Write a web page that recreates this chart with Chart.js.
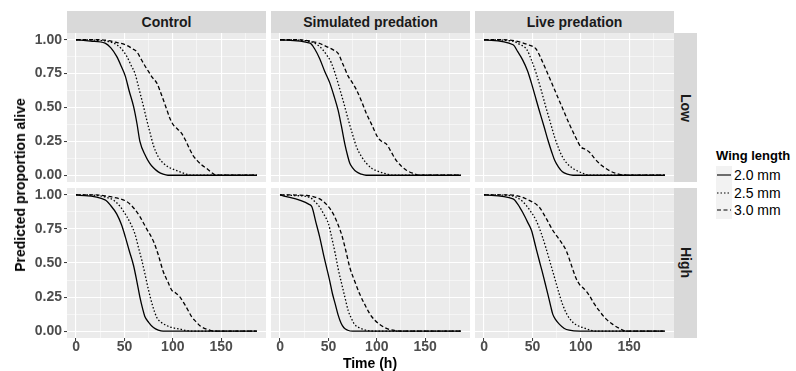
<!DOCTYPE html>
<html>
<head>
<meta charset="utf-8">
<script src="https://cdn.jsdelivr.net/npm/chart.js@4"></script>
<style>
  body { margin: 0; background: #fff; }
  #wrap { position: relative; width: 796px; height: 371px; overflow: hidden; font-family: "Liberation Sans", Arial, sans-serif; }
  #wrap canvas { position: absolute; }
  .strip { position: absolute; background: #D9D9D9; color: #1A1A1A; font-weight: bold; font-size: 14px;
           display: flex; align-items: center; justify-content: center; }
  .strip.side span { writing-mode: vertical-rl; }
  .title { position: absolute; font-weight: bold; font-size: 14px; color: #000; white-space: nowrap; }
  #legend { position: absolute; left: 716px; top: 148px; }
  #legend .head { font-weight: bold; font-size: 13px; margin-bottom: 3px; }
  #legend .row { display: flex; align-items: center; height: 17.7px; font-size: 14px; }
  #legend svg { background: #F2F2F2; margin-right: 2px; }
</style>
</head>
<body>
<div id="wrap"></div>
<script>
// Facets and legend
const treatments = ['Control', 'Simulated predation', 'Live predation'];
const densities = ['Low', 'High'];
const wingLengths = ['2.0 mm', '2.5 mm', '3.0 mm'];
const xTicks = [0, 50, 100, 150];
const yTicks = [0, 0.25, 0.5, 0.75, 1];

// Predicted survival curves, [time (h), proportion alive]
const ctlLow20 = [[0,1],[15,0.99],[30,0.975],[36,0.94],[42,0.877],[47,0.8],[51,0.73],[55,0.62],[59.5,0.506],[63,0.38],[66,0.25],[72,0.14],[76,0.09],[80,0.055],[85,0.025],[90,0.008],[95,0],[187,0]];
const ctlLow25 = [[0,1],[25,0.995],[39,0.975],[46,0.94],[52.5,0.877],[57,0.81],[61,0.75],[65,0.64],[70,0.5],[73,0.41],[76.6,0.31],[80,0.22],[85,0.136],[90,0.09],[95.5,0.06],[100,0.045],[107.5,0.025],[113,0.01],[119.6,0],[187,0]];
const ctlLow30 = [[0,1],[25,1],[42,0.98],[52,0.96],[58,0.935],[63,0.91],[67,0.86],[71,0.81],[75,0.765],[79,0.72],[83.5,0.68],[88,0.6],[94,0.48],[97,0.42],[100.7,0.37],[105,0.34],[109,0.31],[113,0.26],[118,0.185],[121,0.145],[125,0.11],[130,0.075],[135,0.05],[140,0.02],[145,0],[187,0]];

const simLow20 = [[0,1],[31,0.975],[36,0.93],[41,0.86],[46,0.77],[51.5,0.68],[56,0.58],[60,0.48],[63.5,0.36],[67,0.23],[70,0.14],[72,0.09],[75,0.055],[79,0.025],[84,0.008],[89,0],[187,0]];
const simLow25 = [[0,1],[24,0.995],[34,0.98],[41,0.95],[47,0.9],[53,0.83],[57,0.75],[62,0.63],[66,0.53],[70.5,0.41],[75,0.3],[79,0.21],[84,0.14],[89,0.09],[95,0.05],[103,0.025],[110,0.01],[117,0],[187,0]];
const simLow30 = [[0,1],[20,1],[31,0.99],[40,0.975],[48,0.95],[55,0.925],[60,0.9],[65,0.82],[70.5,0.73],[75,0.68],[79,0.63],[84,0.55],[89,0.46],[95,0.37],[101,0.28],[105,0.25],[110,0.23],[115,0.17],[120,0.11],[125,0.07],[130.6,0.037],[137,0.015],[144,0],[187,0]];

const liveLow20 = [[0,1],[30,0.963],[35,0.91],[40,0.85],[45,0.77],[49,0.68],[53,0.58],[57,0.48],[62,0.36],[66,0.26],[70,0.17],[73,0.11],[77,0.06],[81,0.025],[86,0.008],[92,0],[187,0]];
const liveLow25 = [[0,1],[30,0.99],[37,0.965],[44,0.93],[49,0.85],[54,0.75],[59,0.63],[64,0.5],[68.5,0.39],[73,0.28],[77,0.2],[81,0.136],[86,0.085],[90,0.06],[95,0.037],[102,0.015],[109,0],[187,0]];
const liveLow30 = [[0,1],[20,1],[33,0.99],[45,0.965],[54,0.93],[59,0.86],[64,0.78],[70,0.68],[76,0.58],[82,0.48],[88,0.38],[94,0.29],[100,0.21],[105,0.19],[109,0.17],[113,0.135],[116,0.11],[121,0.075],[126,0.05],[133,0.022],[140,0.007],[150,0],[187,0]];

const ctlHigh20 = [[0,1],[30,0.963],[36,0.92],[42,0.86],[47,0.78],[51,0.69],[55,0.59],[59.5,0.48],[63,0.36],[66,0.25],[69,0.16],[71,0.11],[75,0.065],[80,0.027],[85,0.008],[90,0],[187,0]];
const ctlHigh25 = [[0,1],[22,0.995],[32,0.98],[39,0.96],[46,0.91],[52.5,0.84],[57,0.78],[61,0.71],[65,0.6],[68,0.52],[71.5,0.41],[75,0.3],[79,0.19],[83.5,0.1],[88,0.065],[94,0.04],[100,0.025],[107.5,0.015],[114,0.005],[121,0],[187,0]];
const ctlHigh30 = [[0,1],[20,1],[32,0.99],[43,0.975],[52.5,0.95],[60,0.9],[66,0.84],[73,0.75],[80,0.66],[85,0.56],[90,0.44],[95,0.36],[99,0.3],[103,0.28],[107.5,0.25],[112,0.2],[116,0.15],[120,0.1],[124,0.07],[128,0.04],[135,0.015],[143.6,0],[187,0]];

const simHigh20 = [[0,1],[30,0.93],[33,0.91],[37,0.8],[41,0.69],[45,0.56],[48,0.47],[51,0.38],[54,0.28],[57,0.2],[60,0.12],[63,0.06],[66,0.025],[70,0.007],[75,0],[187,0]];
const simHigh25 = [[0,1],[14,0.995],[31,0.98],[36,0.95],[41,0.91],[45,0.86],[50,0.79],[53,0.7],[57,0.57],[60,0.46],[63.6,0.35],[67,0.25],[70.5,0.15],[74,0.09],[77,0.05],[82,0.025],[89,0.007],[100,0],[187,0]];
const simHigh30 = [[0,1],[27.5,0.995],[35,0.985],[41,0.97],[48,0.93],[55,0.86],[60,0.78],[63.6,0.71],[68,0.59],[72,0.47],[77,0.37],[82.5,0.27],[88,0.19],[93,0.125],[98,0.08],[103,0.05],[110,0.02],[117,0.007],[127,0],[187,0]];

const liveHigh20 = [[0,1],[30,0.97],[35,0.93],[40,0.87],[45,0.8],[49,0.74],[53,0.63],[57,0.52],[60,0.44],[62.5,0.37],[66,0.27],[69,0.18],[71,0.125],[74,0.085],[78,0.05],[83,0.02],[88,0.007],[98.6,0],[187,0]];
const liveHigh25 = [[0,1],[26.5,0.995],[34,0.98],[40,0.95],[47,0.89],[54,0.81],[59,0.72],[64,0.61],[68.5,0.5],[73,0.39],[77,0.29],[81,0.2],[86,0.12],[92,0.064],[97,0.04],[102,0.027],[109,0.01],[116,0],[187,0]];
const liveHigh30 = [[0,1],[20,1],[33,0.995],[45,0.965],[57,0.91],[64,0.83],[71,0.74],[78,0.67],[85,0.59],[90,0.49],[95,0.39],[99,0.34],[102,0.32],[106,0.29],[109,0.26],[114,0.2],[119,0.15],[126,0.09],[133,0.05],[140,0.02],[147,0],[187,0]];

const curves = [
  [[ctlLow20, ctlLow25, ctlLow30], [simLow20, simLow25, simLow30], [liveLow20, liveLow25, liveLow30]],
  [[ctlHigh20, ctlHigh25, ctlHigh30], [simHigh20, simHigh25, simHigh30], [liveHigh20, liveHigh25, liveHigh30]]
];

// Layout (px)
const colLeft = [67, 271, 475];
const panelW = 199;
const rowTop = [33, 188];
const rowH = [149, 150];
const yAxisW = 40;
const xAxisH = 20;
const dashes = [[], [1.5, 2], [4, 2.5]];

const wrap = document.getElementById('wrap');

const panelBg = {
  id: 'panelBg',
  beforeDraw(chart) {
    const a = chart.chartArea, c = chart.ctx;
    c.save();
    c.fillStyle = '#EBEBEB';
    c.fillRect(a.left, a.top, a.right - a.left, a.bottom - a.top);
    c.restore();
  }
};

const isMajorX = v => xTicks.includes(v);
const isMajorY = v => yTicks.some(t => Math.abs(t - v) < 1e-9);

function makePanel(row, col) {
  const showY = col === 0, showX = row === 1;
  const w = panelW + (showY ? yAxisW : 0);
  const h = rowH[row] + (showX ? xAxisH : 0);
  const cv = document.createElement('canvas');
  cv.width = w; cv.height = h;
  cv.style.left = (colLeft[col] - (showY ? yAxisW : 0)) + 'px';
  cv.style.top = rowTop[row] + 'px';
  wrap.appendChild(cv);

  new Chart(cv.getContext('2d'), {
    type: 'line',
    data: {
      datasets: curves[row][col].map((s, i) => ({
        label: wingLengths[i],
        data: s.map(([t, p]) => ({ x: t, y: p })),
        borderColor: '#000',
        borderWidth: 1.3,
        borderDash: dashes[i],
        pointRadius: 0,
        cubicInterpolationMode: 'monotone',
        fill: false
      }))
    },
    options: {
      responsive: false,
      animation: false,
      devicePixelRatio: 1,
      layout: { padding: 0 },
      plugins: { legend: { display: false }, tooltip: { enabled: false } },
      scales: {
        x: {
          type: 'linear',
          min: -9.35, max: 196.35,
          afterBuildTicks: s => { s.ticks = [0, 25, 50, 75, 100, 125, 150, 175].map(v => ({ value: v })); },
          afterFit: s => { s.height = showX ? xAxisH : 0; s.paddingLeft = 0; s.paddingRight = 0; s.paddingTop = 0; s.paddingBottom = 0; },
          border: { display: false },
          grid: {
            color: '#FFFFFF',
            lineWidth: c => isMajorX(c.tick.value) ? 1.1 : 0.5,
            drawTicks: showX,
            tickLength: 3,
            tickColor: c => isMajorX(c.tick.value) ? '#333333' : 'rgba(0,0,0,0)',
            tickWidth: 1
          },
          ticks: {
            display: showX,
            autoSkip: false,
            maxRotation: 0,
            padding: -1,
            color: '#4D4D4D',
            font: { family: 'Liberation Sans', size: 14, weight: 'bold', lineHeight: 1 },
            callback: v => isMajorX(v) ? String(v) : ''
          }
        },
        y: {
          type: 'linear',
          min: -0.05, max: 1.05,
          afterBuildTicks: s => { s.ticks = [0, 0.125, 0.25, 0.375, 0.5, 0.625, 0.75, 0.875, 1].map(v => ({ value: v })); },
          afterFit: s => { s.width = showY ? yAxisW : 0; s.paddingLeft = 0; s.paddingRight = 0; s.paddingTop = 0; s.paddingBottom = 0; },
          border: { display: false },
          grid: {
            color: '#FFFFFF',
            lineWidth: c => isMajorY(c.tick.value) ? 1.1 : 0.5,
            drawTicks: showY,
            tickLength: 3,
            tickColor: c => isMajorY(c.tick.value) ? '#333333' : 'rgba(0,0,0,0)',
            tickWidth: 1
          },
          ticks: {
            display: showY,
            autoSkip: false,
            padding: 2,
            color: '#4D4D4D',
            font: { family: 'Liberation Sans', size: 14, weight: 'bold' },
            callback: v => isMajorY(v) ? v.toFixed(2) : ''
          }
        }
      }
    },
    plugins: [panelBg]
  });
}

for (let r = 0; r < densities.length; r++)
  for (let c = 0; c < treatments.length; c++) makePanel(r, c);

// Strips
treatments.forEach((t, c) => {
  const d = document.createElement('div');
  d.className = 'strip';
  d.style.cssText = `left:${colLeft[c]}px;top:11px;width:${panelW}px;height:22px;`;
  d.textContent = t;
  wrap.appendChild(d);
});
densities.forEach((t, r) => {
  const d = document.createElement('div');
  d.className = 'strip side';
  d.style.cssText = `left:674px;top:${rowTop[r]}px;width:23px;height:${rowH[r]}px;`;
  d.innerHTML = `<span>${t}</span>`;
  wrap.appendChild(d);
});

// Axis titles
const xt = document.createElement('div');
xt.className = 'title';
xt.textContent = 'Time (h)';
xt.style.cssText = 'left:370px;top:363px;transform:translate(-50%,-50%);';
wrap.appendChild(xt);
const yt = document.createElement('div');
yt.className = 'title';
yt.textContent = 'Predicted proportion alive';
yt.style.cssText = 'left:20px;top:185px;transform:translate(-50%,-50%) rotate(-90deg);';
wrap.appendChild(yt);

// Legend
const lg = document.createElement('div');
lg.id = 'legend';
let html = '<div class="head">Wing length</div>';
wingLengths.forEach((w, i) => {
  const da = dashes[i].length ? `stroke-dasharray="${dashes[i].join(' ')}"` : '';
  html += `<div class="row"><svg width="16" height="17.7"><line x1="1" y1="9" x2="15" y2="9" stroke="#000" stroke-width="1.1" ${da}/></svg>${w}</div>`;
});
lg.innerHTML = html;
wrap.appendChild(lg);
</script>
</body>
</html>
